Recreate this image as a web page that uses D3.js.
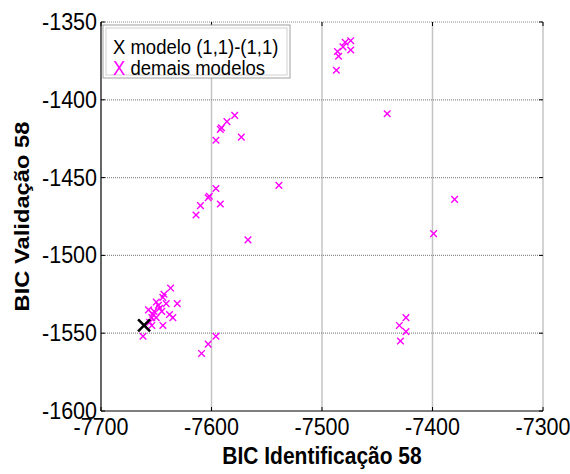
<!DOCTYPE html>
<html lang="en">
<head>
    <meta charset="UTF-8">
    <title>BIC</title>
    <script src="https://d3js.org/d3.v7.min.js"></script>
    <style>
        body { margin: 0; background: #fff; }
        text { font-family: Arial, "Liberation Sans", sans-serif; }
    </style>
</head>
<body>
    <script>
        // valores
        let xTicks = [-7700, -7600, -7500, -7400, -7300];
        let yTicks = [-1350, -1400, -1450, -1500, -1550, -1600];

        let modeloX = [-7661];
        let modeloY = [-1545];

        let demaisX = [-7479, -7474, -7481, -7474, -7486, -7485, -7487,
                       -7441,
                       -7579, -7586, -7592, -7591, -7596, -7573,
                       -7596, -7603, -7602, -7592, -7610, -7614, -7567, -7539,
                       -7380, -7399,
                       -7424, -7424, -7430, -7429,
                       -7596, -7603, -7609,
                       -7637, -7643, -7644, -7650, -7648, -7641, -7631, -7647, -7645, -7657,
                       -7638, -7653, -7650, -7635, -7654, -7656, -7644, -7654, -7652, -7662];
        let demaisY = [-1363, -1362, -1366, -1368, -1369, -1372, -1381,
                       -1409,
                       -1410, -1414, -1419, -1418, -1426, -1424,
                       -1457, -1463, -1462, -1467, -1468, -1474, -1490, -1455,
                       -1464, -1486,
                       -1540, -1549, -1545, -1555,
                       -1552, -1557, -1563,
                       -1521, -1525, -1527, -1530, -1532, -1531, -1531, -1534, -1536, -1535,
                       -1538, -1538, -1540, -1540, -1540, -1543, -1545, -1545, -1536, -1552];

        let w = 570, h = 474;
        let margin = {top: 22, right: 27, bottom: 63, left: 101};
        let sy = 1.13; // o texto da figura original é um pouco esticado na vertical

        const svg = d3.select('body').append('svg').attr('width', w).attr('height', h);

        let x = d3.scaleLinear().domain([-7700, -7300]).range([margin.left, w - margin.right]);
        let y = d3.scaleLinear().domain([-1600, -1350]).range([h - margin.bottom, margin.top]);

        function at(px, py, rot) {
            return 'translate(' + px + ',' + py + ') scale(1,' + sy + ')' + (rot ? ' rotate(' + rot + ')' : '');
        }

        // grade
        svg.append('g').selectAll('line').data(xTicks.slice(1)).enter().append('line')
            .attr('x1', d => x(d)).attr('x2', d => x(d))
            .attr('y1', y(-1350)).attr('y2', y(-1600))
            .style('stroke', '#c4c4c4').style('stroke-width', 1.5);
        svg.append('g').selectAll('line').data(yTicks.slice(0, -1)).enter().append('line')
            .attr('x1', x(-7700)).attr('x2', x(-7300))
            .attr('y1', d => y(d)).attr('y2', d => y(d))
            .style('stroke', '#8c8c8c').style('stroke-width', 1.2).style('stroke-dasharray', '1,1');

        // eixos esquerdo e inferior
        svg.append('line').attr('x1', x(-7700)).attr('x2', x(-7700)).attr('y1', y(-1350)).attr('y2', y(-1600))
            .style('stroke', '#000').style('stroke-width', 1.2);
        svg.append('line').attr('x1', x(-7700)).attr('x2', x(-7300)).attr('y1', y(-1600)).attr('y2', y(-1600))
            .style('stroke', '#000').style('stroke-width', 1.2);

        // marcas de tick (dentro)
        let tk = 4;
        svg.append('g').selectAll('line').data(xTicks).enter().append('line')
            .attr('x1', d => x(d)).attr('x2', d => x(d))
            .attr('y1', y(-1600)).attr('y2', y(-1600) - tk).style('stroke', '#000');
        svg.append('g').selectAll('line').data(xTicks).enter().append('line')
            .attr('x1', d => x(d)).attr('x2', d => x(d))
            .attr('y1', y(-1350)).attr('y2', y(-1350) + tk).style('stroke', '#000');
        svg.append('g').selectAll('line').data(yTicks).enter().append('line')
            .attr('x1', x(-7700)).attr('x2', x(-7700) + tk)
            .attr('y1', d => y(d)).attr('y2', d => y(d)).style('stroke', '#000');
        svg.append('g').selectAll('line').data(yTicks).enter().append('line')
            .attr('x1', x(-7300)).attr('x2', x(-7300) - tk)
            .attr('y1', d => y(d)).attr('y2', d => y(d)).style('stroke', '#000');

        // rótulos
        svg.append('g').selectAll('text').data(xTicks).enter().append('text')
            .attr('transform', d => at(x(d), y(-1600) + 24))
            .attr('text-anchor', 'middle').style('font-size', '21.5px')
            .text(d => d);
        svg.append('g').selectAll('text').data(yTicks).enter().append('text')
            .attr('transform', d => at(x(-7700) - 4, y(d) + 8))
            .attr('text-anchor', 'end').style('font-size', '21.5px')
            .text(d => d);

        svg.append('text').attr('transform', at(x(-7500), 464))
            .attr('text-anchor', 'middle').style('font-size', '21px').style('font-weight', 'bold')
            .text('BIC Identificação 58');
        svg.append('text').attr('transform', at(29, y(-1475), -90))
            .attr('text-anchor', 'middle').style('font-size', '21px').style('font-weight', 'bold')
            .text('BIC Validação 58');

        // marcadores x
        function cross(s) {
            return 'M' + (-s) + ',' + (-s) + 'L' + s + ',' + s + 'M' + (-s) + ',' + s + 'L' + s + ',' + (-s);
        }
        let demais = demaisX.map((d, i) => [d, demaisY[i]]);
        svg.append('g').selectAll('path').data(demais).enter().append('path')
            .attr('transform', d => 'translate(' + x(d[0]) + ',' + y(d[1]) + ')')
            .attr('d', cross(3.3))
            .style('stroke', '#ff00ff').style('stroke-width', 1.4).style('fill', 'none');

        let modelo = modeloX.map((d, i) => [d, modeloY[i]]);
        svg.append('g').selectAll('path').data(modelo).enter().append('path')
            .attr('transform', d => 'translate(' + x(d[0]) + ',' + y(d[1]) + ')')
            .attr('d', cross(6))
            .style('stroke', '#000').style('stroke-width', 2.6).style('fill', 'none');

        // legenda
        let lg = svg.append('g').attr('transform', 'translate(103,25)');
        lg.append('rect').attr('width', 187).attr('height', 53)
            .style('fill', '#fff').style('stroke', '#a0a0a0').style('stroke-width', 1);
        lg.append('rect').attr('x', 3).attr('y', 3).attr('width', 181).attr('height', 47)
            .style('fill', 'none').style('stroke', '#d0d0d0').style('stroke-width', 1);
        lg.append('text').attr('transform', at(10, 29)).style('font-size', '18.5px')
            .text('X modelo (1,1)-(1,1)');
        let t2 = lg.append('text').attr('transform', at(10, 50)).style('font-size', '18.5px');
        t2.append('tspan').style('fill', '#ff00ff').text('X');
        t2.append('tspan').text(' demais modelos');
    </script>
</body>
</html>
